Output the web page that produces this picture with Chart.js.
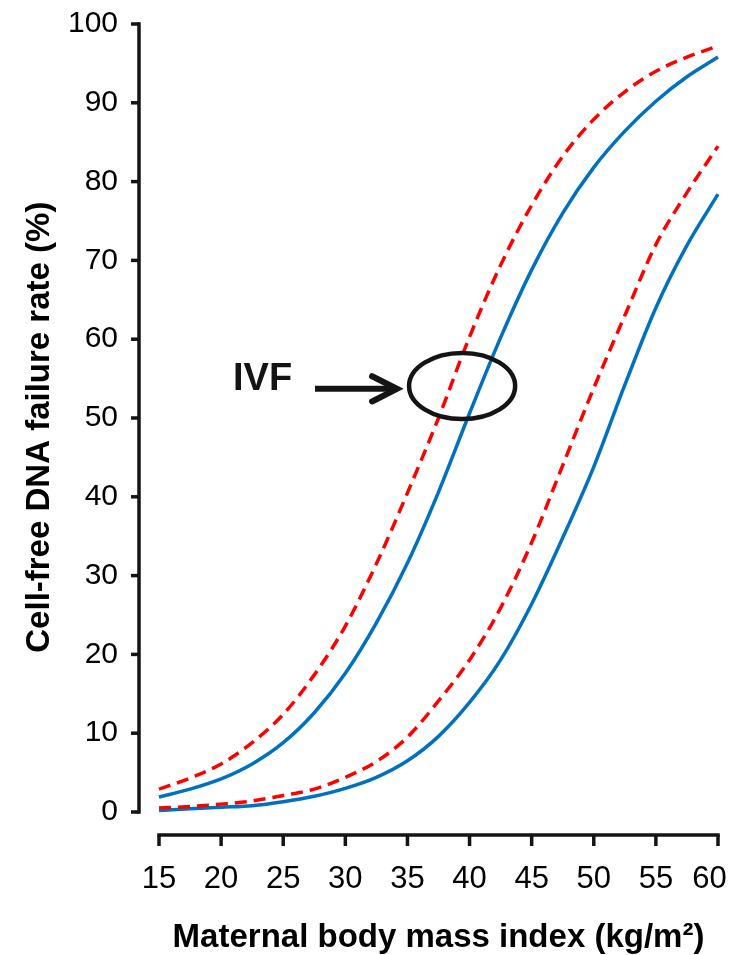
<!DOCTYPE html>
<html><head><meta charset="utf-8">
<script src="https://cdn.jsdelivr.net/npm/chart.js@4.4.1/dist/chart.umd.min.js"></script>
<style>html,body{margin:0;padding:0;background:#fff;} #wrap{width:733px;height:955px;}</style>
</head><body><div id="wrap"><canvas id="c" width="733" height="955"></canvas></div>
<script>
// ---- data ----
const bmi       = [15, 17.5, 20, 22.5, 25, 27.5, 30, 32.5, 35, 37.5, 40, 42.5, 45, 47.5, 50, 52.5, 55, 57.5, 60];
const ivfRed    = [2.9, 4.3, 6.1, 8.8, 12.4, 17.4, 23.6, 31.5, 40.5, 50.0, 60.3, 69.4, 77.0, 83.2, 87.9, 91.4, 94.0, 95.8, 97.2];
const ivfBlue   = [1.9, 2.9, 4.2, 6.1, 8.8, 12.6, 17.6, 24.0, 31.6, 40.6, 50.6, 60.2, 68.8, 76.0, 81.8, 86.4, 90.2, 93.3, 95.8];
const otherRed  = [0.5, 0.7, 1.0, 1.4, 2.1, 2.9, 4.4, 6.4, 9.5, 14.1, 19.3, 25.9, 34.2, 44.0, 53.8, 63.0, 72.0, 78.6, 84.5];
const otherBlue = [0.2, 0.4, 0.6, 0.8, 1.3, 2.0, 3.0, 4.4, 6.5, 9.6, 13.9, 19.3, 26.4, 34.8, 43.8, 54.2, 64.0, 71.9, 78.4];
const xTicks = [15, 20, 25, 30, 35, 40, 45, 50, 55, 60];
const yTicks = [0, 10, 20, 30, 40, 50, 60, 70, 80, 90, 100];
const xTitle = 'Maternal body mass index (kg/m\u00B2)';
const yTitle = 'Cell-free DNA failure rate (%)';
const ivfLabel = 'IVF';

// annotation placement, in data units
const annot = {
  text: { x: 20.96, y: 53.55 },
  arrow: { x0: 27.56, x1: 34.16, y: 53.7, headBack: 32.15, headHalf: 1.6 },
  ellipse: { cx: 39.4, cy: 54.06, rx: 4.27, ry: 4.19 }
};

const FONT = "'Liberation Sans', Arial, Helvetica, sans-serif";
const INK = '#141414';
const RED = '#ff0000';
const BLUE = '#0070c0';

const pts = arr => bmi.map((b, i) => ({ x: b, y: arr[i] }));

const noPad = s => { s.paddingTop = 0; s.paddingBottom = 0; s.paddingLeft = 0; s.paddingRight = 0; };

const axesPlugin = {
  id: 'detachedAxes',
  afterDraw(chart) {
    const { ctx, chartArea, scales: { x, y } } = chart;
    ctx.save();
    ctx.strokeStyle = INK;
    ctx.lineWidth = 3.5;
    ctx.lineCap = 'butt';
    // y axis
    const ax = chartArea.left - 20;
    ctx.beginPath();
    ctx.moveTo(ax, y.getPixelForValue(100) - 1.75);
    ctx.lineTo(ax, y.getPixelForValue(0) + 1.75);
    ctx.stroke();
    yTicks.forEach(v => {
      const py = y.getPixelForValue(v);
      ctx.beginPath(); ctx.moveTo(ax - 8, py); ctx.lineTo(ax, py); ctx.stroke();
    });
    // x axis
    const ay = chartArea.bottom + 23;
    ctx.beginPath();
    ctx.moveTo(x.getPixelForValue(15) - 1.75, ay);
    ctx.lineTo(x.getPixelForValue(60) + 1.75, ay);
    ctx.stroke();
    xTicks.forEach(v => {
      const px = x.getPixelForValue(v);
      ctx.beginPath(); ctx.moveTo(px, ay); ctx.lineTo(px, ay + 11); ctx.stroke();
    });

    // annotation: IVF label, arrow, ellipse
    ctx.fillStyle = INK;
    ctx.font = "bold 38px " + FONT;
    ctx.textAlign = 'left';
    ctx.textBaseline = 'alphabetic';
    ctx.fillText(ivfLabel, x.getPixelForValue(annot.text.x), y.getPixelForValue(annot.text.y));

    const a = annot.arrow;
    const ayp = y.getPixelForValue(a.y);
    ctx.lineWidth = 6;
    ctx.beginPath();
    ctx.moveTo(x.getPixelForValue(a.x0), ayp);
    ctx.lineTo(x.getPixelForValue(a.x1) - 3, ayp);
    ctx.stroke();
    ctx.lineCap = 'round';
    ctx.lineJoin = 'miter';
    ctx.beginPath();
    ctx.moveTo(x.getPixelForValue(a.headBack), y.getPixelForValue(a.y + a.headHalf));
    ctx.lineTo(x.getPixelForValue(a.x1), ayp);
    ctx.lineTo(x.getPixelForValue(a.headBack), y.getPixelForValue(a.y - a.headHalf));
    ctx.stroke();

    const e = annot.ellipse;
    const cx = x.getPixelForValue(e.cx), cy = y.getPixelForValue(e.cy);
    const rx = x.getPixelForValue(e.cx + e.rx) - cx;
    const ry = cy - y.getPixelForValue(e.cy + e.ry);
    ctx.lineWidth = 4.5;
    ctx.beginPath();
    ctx.ellipse(cx, cy, rx, ry, 0, 0, Math.PI * 2);
    ctx.stroke();
    ctx.restore();
  }
};

new Chart(document.getElementById('c'), {
  type: 'line',
  data: {
    datasets: [
      { label: 'IVF (dashed)', data: pts(ivfRed), borderColor: RED, borderDash: [12, 7], borderWidth: 3.5 },
      { label: 'Non-IVF (dashed)', data: pts(otherRed), borderColor: RED, borderDash: [12, 7], borderWidth: 3.5 },
      { label: 'IVF', data: pts(ivfBlue), borderColor: BLUE, borderWidth: 3.5 },
      { label: 'Non-IVF', data: pts(otherBlue), borderColor: BLUE, borderWidth: 3.5 }
    ]
  },
  options: {
    responsive: false,
    animation: false,
    devicePixelRatio: 1,
    layout: { padding: { top: 24, right: 15, left: 0, bottom: 0 } },
    elements: {
      point: { radius: 0, hoverRadius: 0 },
      line: { cubicInterpolationMode: 'monotone', fill: false, borderCapStyle: 'butt' }
    },
    datasets: { line: { clip: 6 } },
    plugins: { legend: { display: false }, tooltip: { enabled: false } },
    scales: {
      x: {
        type: 'linear', min: 15, max: 60,
        afterBuildTicks: s => { s.ticks = xTicks.map(v => ({ value: v })); },
        afterFit: s => { s.height = 143; noPad(s); },
        grid: { display: false, drawTicks: false },
        border: { display: false },
        ticks: {
          color: '#000', font: { family: FONT, size: 31 }, padding: 49, autoSkip: false, maxRotation: 0,
          // last label is nudged inward (trailing spaces) so it stays inside the frame, as in the original
          callback: (v, i, arr) => (i === arr.length - 1 ? String(v) + '  ' : String(v))
        },
        title: { display: true, text: xTitle, color: '#000', font: { family: FONT, size: 33, weight: 'bold', lineHeight: 1 }, padding: { top: 0, bottom: 1 } }
      },
      y: {
        type: 'linear', min: 0, max: 100,
        afterBuildTicks: s => { s.ticks = yTicks.map(v => ({ value: v })); },
        afterFit: s => { s.width = 159; noPad(s); },
        grid: { display: false, drawTicks: false },
        border: { display: false },
        ticks: { color: '#000', font: { family: FONT, size: 30 }, padding: 41, autoSkip: false },
        title: { display: true, text: yTitle + '  ', color: '#000', font: { family: FONT, size: 33, weight: 'bold', lineHeight: 1.2 }, padding: { top: 20, bottom: 0 } }
      }
    }
  },
  plugins: [axesPlugin]
});
</script>
</body></html>
